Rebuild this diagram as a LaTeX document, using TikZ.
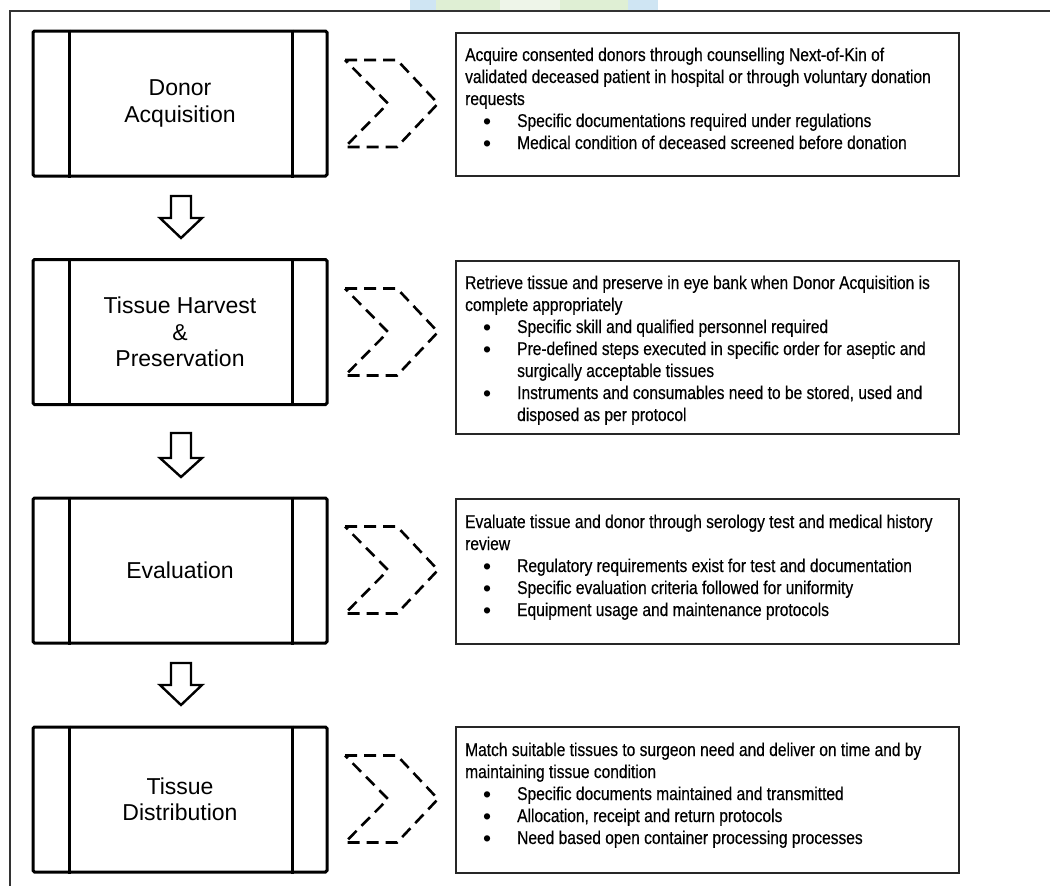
\documentclass[tikz,border=0pt]{standalone}
\usepackage{fontspec}
\setmainfont{Liberation Sans}
\newfontfamily\narrowfont[FakeStretch=0.84,FakeBold=0.4]{Liberation Sans}
\newfontfamily\regfont{Liberation Sans}
\usetikzlibrary{calc}
\newcommand{\bl}[1]{\makebox[52pt][l]{\hspace*{18pt}{\regfont\fontsize{23}{22}\selectfont\raisebox{-2.5pt}{\textbullet}}}#1}
\newcommand{\ct}[1]{\hspace*{52pt}#1}
\definecolor{wmblue}{HTML}{CFE5F3}
\definecolor{wmgreen}{HTML}{DFEFD4}
\definecolor{wmpale}{HTML}{EEF5E9}
\begin{document}
\begin{tikzpicture}[x=1pt,y=-1pt,
  lbox/.style={draw, line width=3pt, rounded corners=1.5pt, minimum width=294pt, minimum height=145pt,
    align=center, font=\fontsize{23}{26.5}\selectfont, inner sep=0pt},
  rbox/.style={draw=black!85, line width=2pt, anchor=north west, minimum width=503pt, inner sep=0pt},
  txt/.style={anchor=base west, inner sep=0pt},
  chev/.style={draw, line width=2.6pt, dash pattern=on 12pt off 7pt},
  barrow/.style={draw, line width=2.4pt, line join=miter, fill=white},
  frame/.style={draw=black!80, line width=1.4pt}
]
\useasboundingbox (0,0) rectangle (1050,886);
% watermark fragment
\fill[wmblue] (410,0) rectangle (436,10);
\fill[wmgreen] (436,0) rectangle (500,10);
\fill[wmpale] (500,0) rectangle (560,10);
\fill[wmgreen] (560,0) rectangle (628,10);
\fill[wmblue] (628,0) rectangle (658,10);
% frame
\draw[frame] (10,886) -- (10,11) -- (1050,11);

% left boxes
\node[lbox] (L1) at (180,103.5) {Donor\\Acquisition};
\node[lbox] (L2) at (180,332) {Tissue Harvest\\\&\\Preservation};
\node[lbox] (L3) at (180,570.5) {Evaluation};
\node[lbox] (L4) at (180,799.5) {Tissue\\Distribution};
\foreach \n in {L1,L2,L3,L4}{
  \draw[line width=3pt] ([xshift=38pt]\n.north west) -- ([xshift=38pt]\n.south west);
  \draw[line width=3pt] ([xshift=-36pt]\n.north east) -- ([xshift=-36pt]\n.south east);
}

% right boxes
\node[rbox, minimum height=143pt] (R1) at (455,32) {};
\node[rbox, minimum height=173pt] (R2) at (455,260) {};
\node[rbox, minimum height=145pt] (R3) at (455,498) {};
\node[rbox, minimum height=146pt] (R4) at (455,726) {};

% chevrons
\foreach \c in {103.5,332,570,799}{
  \draw[chev] (345,\c-43.5) -- (397,\c-43.5) -- (438,\c) -- (397,\c+43.5) -- (345,\c+43.5) -- (388,\c) -- cycle;
}

% block arrows
\foreach \t/\h/\p in {196/218/238, 433/458/477, 663/685/705}{
  \draw[barrow] (171,\t) -- (191,\t) -- (191,\h) -- (202,\h) -- (181,\p) -- (160,\h) -- (171,\h) -- cycle;
}

% texts
\node[txt] (T1) at (465,61) {\parbox[t]{490pt}{\raggedright\hyphenpenalty=10000\narrowfont\fontsize{18.5}{22}\selectfont
Acquire consented donors through counselling Next-of-Kin of\\
validated deceased patient in hospital or through voluntary donation\\
requests\\
\bl{Specific documentations required under regulations}\\
\bl{Medical condition of deceased screened before donation}}};

\node[txt] (T2) at (465,289) {\parbox[t]{490pt}{\raggedright\hyphenpenalty=10000\narrowfont\fontsize{18.5}{22}\selectfont
Retrieve tissue and preserve in eye bank when Donor Acquisition is\\
complete appropriately\\
\bl{Specific skill and qualified personnel required}\\
\bl{Pre-defined steps executed in specific order for aseptic and}\\
\ct{surgically acceptable tissues}\\
\bl{Instruments and consumables need to be stored, used and}\\
\ct{disposed as per protocol}}};

\node[txt] (T3) at (465,528) {\parbox[t]{490pt}{\raggedright\hyphenpenalty=10000\narrowfont\fontsize{18.5}{22}\selectfont
Evaluate tissue and donor through serology test and medical history\\
review\\
\bl{Regulatory requirements exist for test and documentation}\\
\bl{Specific evaluation criteria followed for uniformity}\\
\bl{Equipment usage and maintenance protocols}}};

\node[txt] (T4) at (465,756) {\parbox[t]{490pt}{\raggedright\hyphenpenalty=10000\narrowfont\fontsize{18.5}{22}\selectfont
Match suitable tissues to surgeon need and deliver on time and by\\
maintaining tissue condition\\
\bl{Specific documents maintained and transmitted}\\
\bl{Allocation, receipt and return protocols}\\
\bl{Need based open container processing processes}}};
\end{tikzpicture}
\end{document}
